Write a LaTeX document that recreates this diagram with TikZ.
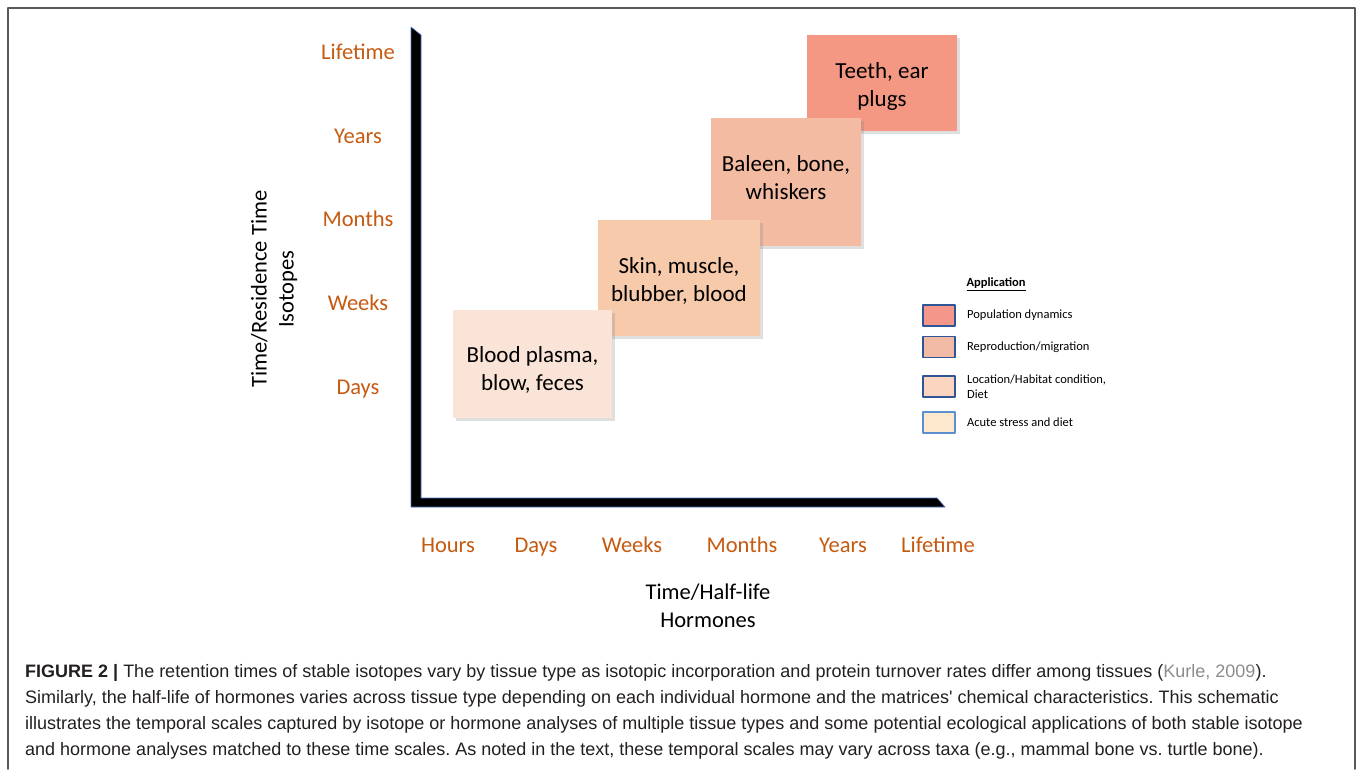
\documentclass[tikz,border=0pt]{standalone}
\usepackage{fontspec}
\setmainfont{Carlito}
\newfontfamily\capfont{Liberation Sans}
\usetikzlibrary{shadows, positioning}
\definecolor{scaleorange}{HTML}{C55A11}
\definecolor{axisblue}{HTML}{4472C4}
\definecolor{keyblue}{HTML}{2F5597}
\definecolor{keylight}{HTML}{5B8FD0}
\definecolor{popcol}{HTML}{F4978A}
\definecolor{reprocol}{HTML}{F1BAA4}
\definecolor{habcol}{HTML}{FBD5C0}
\definecolor{acutecol}{HTML}{FCE8CC}
\definecolor{teethcol}{HTML}{F49884}
\definecolor{baleencol}{HTML}{F2BBA2}
\definecolor{skincol}{HTML}{F7CAAC}
\definecolor{bloodcol}{HTML}{FAE4D7}
\definecolor{citegray}{HTML}{8C8C8C}
\definecolor{captext}{HTML}{231F20}
\frenchspacing

\begin{document}
\begin{tikzpicture}[line cap=round,line join=round,x=1pt,y=-1pt,
  tissue/.style={inner sep=0pt,
    drop shadow={opacity=0.25, shadow xshift=3pt, shadow yshift=-3pt}},
  tissuetext/.style={align=center, font=\fontsize{23}{28}\selectfont},
  scalelabel/.style={anchor=base, color=scaleorange, font=\fontsize{22.5}{27}\selectfont},
  keybox/.style={draw=keyblue, line width=1.2pt, minimum width=32pt, minimum height=21pt, inner sep=0pt},
  keytext/.style={right=8pt of #1, align=left, font=\fontsize{12.5}{15}\selectfont}]
\useasboundingbox (0,0) rectangle (1357,769);

% Frame
\draw [line width=1.5pt, color=black!65] (8,769) -- (8,8) -- (1355,8) -- (1355,769);

% Axes
\draw [fill=black, draw=axisblue, line width=0.6pt]
  (411,27) -- (421,35) -- (421,498) -- (937,498) -- (945,507) -- (411,507) -- cycle;

% Scale labels
\foreach \lab/\y in {Lifetime/51, Years/135, Months/218, Weeks/302, Days/386}
  \node [scalelabel] (y-\lab) at (358,\y+8) {\lab};
\foreach \lab/\x in {Hours/448, Days/536, Weeks/632, Months/742, Years/843, Lifetime/938}
  \node [scalelabel] (x-\lab) at (\x,552) {\lab};

% Axis titles
\node [rotate=90, align=center, font=\fontsize{22.5}{27}\selectfont] (ytitle) at (274,289)
  {Time/Residence Time\\Isotopes};
\node [align=center, font=\fontsize{22.5}{28}\selectfont] (xtitle) at (708,606)
  {Time/Half-life\\Hormones};

% Tissues (back to front)
\node [tissue, fill=teethcol, minimum width=150pt, minimum height=96pt] (teeth) at (882,83) {};
\node [tissuetext] (teeth-text) at ([yshift=-3pt]teeth.center) {Teeth, ear\\plugs};
\node [tissue, fill=baleencol, minimum width=150pt, minimum height=128pt] (baleen) at (786,182) {};
\node [tissuetext] (baleen-text) at ([yshift=4pt]baleen.center) {Baleen, bone,\\whiskers};
\node [tissue, fill=skincol, minimum width=162pt, minimum height=116pt] (skin) at (679,278) {};
\node [tissuetext] (skin-text) at ([yshift=-3pt]skin.center) {Skin, muscle,\\blubber, blood};
\node [tissue, fill=bloodcol, minimum width=159pt, minimum height=108pt] (blood) at (532.5,364) {};
\node [tissuetext] (blood-text) at ([yshift=-6pt]blood.center) {Blood plasma,\\blow, feces};

% Legend
\node [anchor=west, font=\fontsize{12.5}{15}\selectfont\bfseries] (apptitle) at (963,284)
  {\underline{Application}};
\node [keybox, fill=popcol] (popkey) at (939,315.5) {};
\node [keybox, fill=reprocol] (reprokey) at (939,347) {};
\node [keybox, fill=habcol] (habkey) at (939,386.5) {};
\node [keybox, fill=acutecol, draw=keylight] (acutekey) at (939,422.5) {};
\node [keytext=popkey] (poptext) {Population dynamics};
\node [keytext=reprokey] (reprotext) {Reproduction/migration};
\node [keytext=habkey] (habtext) {Location/Habitat condition,\\Diet};
\node [keytext=acutekey] (acutetext) {Acute stress and diet};

% Caption
\node [anchor=north west, align=left, inner sep=0pt, color=captext,
  font=\capfont\fontsize{18}{26}\selectfont] (caption) at (25,664)
  {\textbf{FIGURE 2 |} The retention times of stable isotopes vary by tissue type as isotopic incorporation and protein turnover rates differ among tissues ({\color{citegray}Kurle, 2009}).\\
  Similarly, the half-life of hormones varies across tissue type depending on each individual hormone and the matrices' chemical characteristics. This schematic\\
  illustrates the temporal scales captured by isotope or hormone analyses of multiple tissue types and some potential ecological applications of both stable isotope\\
  and hormone analyses matched to these time scales. As noted in the text, these temporal scales may vary across taxa (e.g., mammal bone vs. turtle bone).};
\end{tikzpicture}
\end{document}
